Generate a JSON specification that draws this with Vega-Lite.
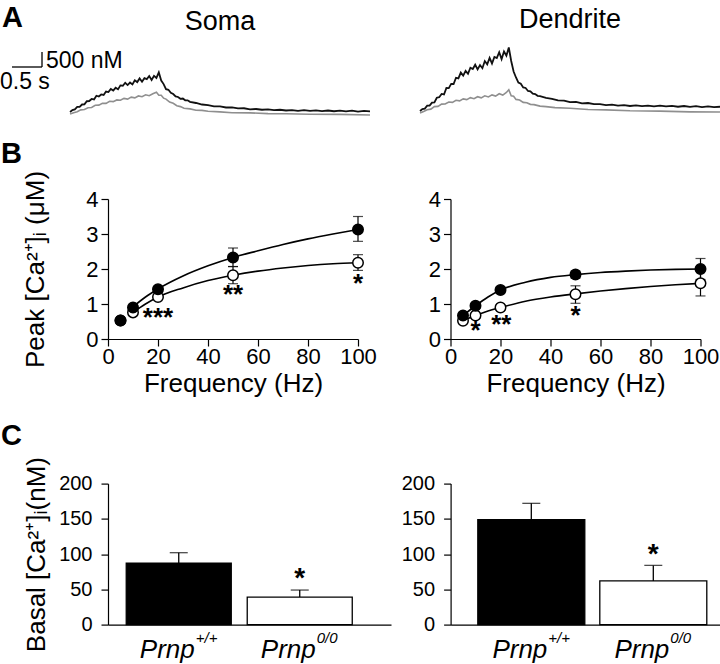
{
 "$schema": "https://vega.github.io/schema/vega-lite/v6.json",
 "padding": {"left": 0, "top": 3, "right": 0, "bottom": 0},
 "background": "white",
 "datasets": {
  "traces": [
   {"p":"soma","g":"ko","t":0,"c":-67},{"p":"soma","g":"ko","t":0.06,"c":-22},{"p":"soma","g":"ko","t":0.12,"c":8},{"p":"soma","g":"ko","t":0.18,"c":70},{"p":"soma","g":"ko","t":0.24,"c":82},{"p":"soma","g":"ko","t":0.3,"c":142},{"p":"soma","g":"ko","t":0.36,"c":150},{"p":"soma","g":"ko","t":0.42,"c":225},{"p":"soma","g":"ko","t":0.48,"c":228},{"p":"soma","g":"ko","t":0.54,"c":288},{"p":"soma","g":"ko","t":0.6,"c":288},{"p":"soma","g":"ko","t":0.66,"c":358},{"p":"soma","g":"ko","t":0.72,"c":345},{"p":"soma","g":"ko","t":0.78,"c":402},{"p":"soma","g":"ko","t":0.84,"c":390},{"p":"soma","g":"ko","t":0.9,"c":455},{"p":"soma","g":"ko","t":0.96,"c":430},{"p":"soma","g":"ko","t":1.02,"c":495},{"p":"soma","g":"ko","t":1.08,"c":472},{"p":"soma","g":"ko","t":1.14,"c":535},{"p":"soma","g":"ko","t":1.2,"c":510},{"p":"soma","g":"ko","t":1.26,"c":575},{"p":"soma","g":"ko","t":1.32,"c":542},{"p":"soma","g":"ko","t":1.38,"c":610},{"p":"soma","g":"ko","t":1.44,"c":660},{"p":"soma","g":"ko","t":1.48,"c":560},{"p":"soma","g":"ko","t":1.52,"c":560},{"p":"soma","g":"ko","t":1.56,"c":460},{"p":"soma","g":"ko","t":1.6,"c":430},{"p":"soma","g":"ko","t":1.66,"c":330},{"p":"soma","g":"ko","t":1.72,"c":290},{"p":"soma","g":"ko","t":1.78,"c":210},{"p":"soma","g":"ko","t":1.84,"c":180},{"p":"soma","g":"ko","t":1.9,"c":125},{"p":"soma","g":"ko","t":2.0,"c":105},{"p":"soma","g":"ko","t":2.1,"c":60},{"p":"soma","g":"ko","t":2.2,"c":55},{"p":"soma","g":"ko","t":2.3,"c":25},{"p":"soma","g":"ko","t":2.5,"c":5},{"p":"soma","g":"ko","t":2.7,"c":-25},{"p":"soma","g":"ko","t":3.0,"c":-30},{"p":"soma","g":"ko","t":3.3,"c":-55},{"p":"soma","g":"ko","t":3.6,"c":-58},{"p":"soma","g":"ko","t":4.0,"c":-75},{"p":"soma","g":"ko","t":4.5,"c":-80},{"p":"soma","g":"ko","t":5.0,"c":-100},
   {"p":"soma","g":"wt","t":0,"c":0},{"p":"soma","g":"wt","t":0.04,"c":62},{"p":"soma","g":"wt","t":0.08,"c":86},{"p":"soma","g":"wt","t":0.12,"c":168},{"p":"soma","g":"wt","t":0.16,"c":172},{"p":"soma","g":"wt","t":0.2,"c":250},{"p":"soma","g":"wt","t":0.24,"c":254},{"p":"soma","g":"wt","t":0.28,"c":359},{"p":"soma","g":"wt","t":0.32,"c":365},{"p":"soma","g":"wt","t":0.36,"c":435},{"p":"soma","g":"wt","t":0.4,"c":418},{"p":"soma","g":"wt","t":0.44,"c":543},{"p":"soma","g":"wt","t":0.48,"c":517},{"p":"soma","g":"wt","t":0.52,"c":585},{"p":"soma","g":"wt","t":0.56,"c":570},{"p":"soma","g":"wt","t":0.6,"c":682},{"p":"soma","g":"wt","t":0.64,"c":664},{"p":"soma","g":"wt","t":0.68,"c":770},{"p":"soma","g":"wt","t":0.72,"c":716},{"p":"soma","g":"wt","t":0.76,"c":807},{"p":"soma","g":"wt","t":0.8,"c":755},{"p":"soma","g":"wt","t":0.84,"c":887},{"p":"soma","g":"wt","t":0.88,"c":876},{"p":"soma","g":"wt","t":0.92,"c":974},{"p":"soma","g":"wt","t":0.96,"c":898},{"p":"soma","g":"wt","t":1.0,"c":981},{"p":"soma","g":"wt","t":1.04,"c":918},{"p":"soma","g":"wt","t":1.08,"c":1058},{"p":"soma","g":"wt","t":1.12,"c":997},{"p":"soma","g":"wt","t":1.16,"c":1120},{"p":"soma","g":"wt","t":1.2,"c":1011},{"p":"soma","g":"wt","t":1.24,"c":1129},{"p":"soma","g":"wt","t":1.28,"c":1095},{"p":"soma","g":"wt","t":1.32,"c":1199},{"p":"soma","g":"wt","t":1.36,"c":1068},{"p":"soma","g":"wt","t":1.4,"c":1207},{"p":"soma","g":"wt","t":1.44,"c":1136},{"p":"soma","g":"wt","t":1.48,"c":1320},{"p":"soma","g":"wt","t":1.52,"c":1050},{"p":"soma","g":"wt","t":1.56,"c":930},{"p":"soma","g":"wt","t":1.6,"c":760},{"p":"soma","g":"wt","t":1.64,"c":740},{"p":"soma","g":"wt","t":1.68,"c":640},{"p":"soma","g":"wt","t":1.72,"c":600},{"p":"soma","g":"wt","t":1.76,"c":520},{"p":"soma","g":"wt","t":1.8,"c":500},{"p":"soma","g":"wt","t":1.84,"c":440},{"p":"soma","g":"wt","t":1.88,"c":450},{"p":"soma","g":"wt","t":1.92,"c":390},{"p":"soma","g":"wt","t":1.96,"c":390},{"p":"soma","g":"wt","t":2.0,"c":340},{"p":"soma","g":"wt","t":2.1,"c":300},{"p":"soma","g":"wt","t":2.2,"c":250},{"p":"soma","g":"wt","t":2.3,"c":230},{"p":"soma","g":"wt","t":2.4,"c":190},{"p":"soma","g":"wt","t":2.5,"c":190},{"p":"soma","g":"wt","t":2.6,"c":150},{"p":"soma","g":"wt","t":2.7,"c":155},{"p":"soma","g":"wt","t":2.8,"c":120},{"p":"soma","g":"wt","t":2.9,"c":125},{"p":"soma","g":"wt","t":3.0,"c":90},{"p":"soma","g":"wt","t":3.1,"c":100},{"p":"soma","g":"wt","t":3.2,"c":75},{"p":"soma","g":"wt","t":3.3,"c":85},{"p":"soma","g":"wt","t":3.4,"c":60},{"p":"soma","g":"wt","t":3.5,"c":75},{"p":"soma","g":"wt","t":3.6,"c":50},{"p":"soma","g":"wt","t":3.7,"c":65},{"p":"soma","g":"wt","t":3.8,"c":40},{"p":"soma","g":"wt","t":3.9,"c":60},{"p":"soma","g":"wt","t":4.0,"c":35},{"p":"soma","g":"wt","t":4.1,"c":55},{"p":"soma","g":"wt","t":4.2,"c":30},{"p":"soma","g":"wt","t":4.3,"c":50},{"p":"soma","g":"wt","t":4.4,"c":25},{"p":"soma","g":"wt","t":4.5,"c":45},{"p":"soma","g":"wt","t":4.6,"c":20},{"p":"soma","g":"wt","t":4.7,"c":45},{"p":"soma","g":"wt","t":4.8,"c":15},{"p":"soma","g":"wt","t":4.9,"c":40},{"p":"soma","g":"wt","t":5.0,"c":20},
   {"p":"dend","g":"ko","t":0,"c":-33},{"p":"dend","g":"ko","t":0.06,"c":15},{"p":"dend","g":"ko","t":0.12,"c":75},{"p":"dend","g":"ko","t":0.18,"c":95},{"p":"dend","g":"ko","t":0.24,"c":180},{"p":"dend","g":"ko","t":0.3,"c":188},{"p":"dend","g":"ko","t":0.36,"c":262},{"p":"dend","g":"ko","t":0.42,"c":265},{"p":"dend","g":"ko","t":0.48,"c":332},{"p":"dend","g":"ko","t":0.54,"c":322},{"p":"dend","g":"ko","t":0.6,"c":390},{"p":"dend","g":"ko","t":0.66,"c":370},{"p":"dend","g":"ko","t":0.72,"c":438},{"p":"dend","g":"ko","t":0.78,"c":412},{"p":"dend","g":"ko","t":0.84,"c":478},{"p":"dend","g":"ko","t":0.9,"c":445},{"p":"dend","g":"ko","t":0.96,"c":510},{"p":"dend","g":"ko","t":1.02,"c":472},{"p":"dend","g":"ko","t":1.08,"c":540},{"p":"dend","g":"ko","t":1.14,"c":502},{"p":"dend","g":"ko","t":1.2,"c":570},{"p":"dend","g":"ko","t":1.26,"c":530},{"p":"dend","g":"ko","t":1.32,"c":608},{"p":"dend","g":"ko","t":1.38,"c":565},{"p":"dend","g":"ko","t":1.44,"c":650},{"p":"dend","g":"ko","t":1.48,"c":740},{"p":"dend","g":"ko","t":1.52,"c":540},{"p":"dend","g":"ko","t":1.56,"c":525},{"p":"dend","g":"ko","t":1.6,"c":420},{"p":"dend","g":"ko","t":1.66,"c":400},{"p":"dend","g":"ko","t":1.72,"c":320},{"p":"dend","g":"ko","t":1.78,"c":310},{"p":"dend","g":"ko","t":1.84,"c":255},{"p":"dend","g":"ko","t":1.9,"c":245},{"p":"dend","g":"ko","t":2.0,"c":195},{"p":"dend","g":"ko","t":2.1,"c":180},{"p":"dend","g":"ko","t":2.25,"c":145},{"p":"dend","g":"ko","t":2.5,"c":125},{"p":"dend","g":"ko","t":2.8,"c":85},{"p":"dend","g":"ko","t":3.1,"c":70},{"p":"dend","g":"ko","t":3.5,"c":40},{"p":"dend","g":"ko","t":4.0,"c":30},{"p":"dend","g":"ko","t":4.5,"c":5},{"p":"dend","g":"ko","t":5.0,"c":0},
   {"p":"dend","g":"wt","t":0,"c":33},{"p":"dend","g":"wt","t":0.04,"c":97},{"p":"dend","g":"wt","t":0.08,"c":114},{"p":"dend","g":"wt","t":0.12,"c":211},{"p":"dend","g":"wt","t":0.16,"c":213},{"p":"dend","g":"wt","t":0.2,"c":313},{"p":"dend","g":"wt","t":0.24,"c":322},{"p":"dend","g":"wt","t":0.28,"c":476},{"p":"dend","g":"wt","t":0.32,"c":493},{"p":"dend","g":"wt","t":0.36,"c":601},{"p":"dend","g":"wt","t":0.4,"c":584},{"p":"dend","g":"wt","t":0.44,"c":804},{"p":"dend","g":"wt","t":0.48,"c":795},{"p":"dend","g":"wt","t":0.52,"c":936},{"p":"dend","g":"wt","t":0.56,"c":933},{"p":"dend","g":"wt","t":0.6,"c":1142},{"p":"dend","g":"wt","t":0.64,"c":1120},{"p":"dend","g":"wt","t":0.68,"c":1313},{"p":"dend","g":"wt","t":0.72,"c":1215},{"p":"dend","g":"wt","t":0.76,"c":1369},{"p":"dend","g":"wt","t":0.8,"c":1273},{"p":"dend","g":"wt","t":0.84,"c":1477},{"p":"dend","g":"wt","t":0.88,"c":1433},{"p":"dend","g":"wt","t":0.92,"c":1575},{"p":"dend","g":"wt","t":0.96,"c":1422},{"p":"dend","g":"wt","t":1.0,"c":1565},{"p":"dend","g":"wt","t":1.04,"c":1460},{"p":"dend","g":"wt","t":1.08,"c":1698},{"p":"dend","g":"wt","t":1.12,"c":1591},{"p":"dend","g":"wt","t":1.16,"c":1805},{"p":"dend","g":"wt","t":1.2,"c":1618},{"p":"dend","g":"wt","t":1.24,"c":1837},{"p":"dend","g":"wt","t":1.28,"c":1798},{"p":"dend","g":"wt","t":1.32,"c":1992},{"p":"dend","g":"wt","t":1.36,"c":1762},{"p":"dend","g":"wt","t":1.4,"c":2014},{"p":"dend","g":"wt","t":1.44,"c":1875},{"p":"dend","g":"wt","t":1.48,"c":2150},{"p":"dend","g":"wt","t":1.52,"c":1700},{"p":"dend","g":"wt","t":1.56,"c":1350},{"p":"dend","g":"wt","t":1.6,"c":1150},{"p":"dend","g":"wt","t":1.64,"c":980},{"p":"dend","g":"wt","t":1.68,"c":940},{"p":"dend","g":"wt","t":1.72,"c":820},{"p":"dend","g":"wt","t":1.76,"c":800},{"p":"dend","g":"wt","t":1.8,"c":700},{"p":"dend","g":"wt","t":1.84,"c":690},{"p":"dend","g":"wt","t":1.88,"c":610},{"p":"dend","g":"wt","t":1.92,"c":600},{"p":"dend","g":"wt","t":1.96,"c":540},{"p":"dend","g":"wt","t":2.0,"c":530},{"p":"dend","g":"wt","t":2.1,"c":470},{"p":"dend","g":"wt","t":2.2,"c":440},{"p":"dend","g":"wt","t":2.3,"c":390},{"p":"dend","g":"wt","t":2.4,"c":380},{"p":"dend","g":"wt","t":2.5,"c":330},{"p":"dend","g":"wt","t":2.6,"c":340},{"p":"dend","g":"wt","t":2.7,"c":290},{"p":"dend","g":"wt","t":2.8,"c":300},{"p":"dend","g":"wt","t":2.9,"c":260},{"p":"dend","g":"wt","t":3.0,"c":265},{"p":"dend","g":"wt","t":3.1,"c":230},{"p":"dend","g":"wt","t":3.2,"c":245},{"p":"dend","g":"wt","t":3.3,"c":215},{"p":"dend","g":"wt","t":3.4,"c":230},{"p":"dend","g":"wt","t":3.5,"c":200},{"p":"dend","g":"wt","t":3.6,"c":220},{"p":"dend","g":"wt","t":3.7,"c":195},{"p":"dend","g":"wt","t":3.8,"c":215},{"p":"dend","g":"wt","t":3.9,"c":190},{"p":"dend","g":"wt","t":4.0,"c":210},{"p":"dend","g":"wt","t":4.1,"c":185},{"p":"dend","g":"wt","t":4.2,"c":205},{"p":"dend","g":"wt","t":4.3,"c":175},{"p":"dend","g":"wt","t":4.4,"c":200},{"p":"dend","g":"wt","t":4.5,"c":170},{"p":"dend","g":"wt","t":4.6,"c":195},{"p":"dend","g":"wt","t":4.7,"c":165},{"p":"dend","g":"wt","t":4.8,"c":190},{"p":"dend","g":"wt","t":4.9,"c":160},{"p":"dend","g":"wt","t":5.0,"c":175}
  ],
  "fit": [
   {"p":"soma","g":"wt","f":10,"v":0.92},{"p":"soma","g":"wt","f":15,"v":1.2},{"p":"soma","g":"wt","f":20,"v":1.43},{"p":"soma","g":"wt","f":30,"v":1.8},{"p":"soma","g":"wt","f":40,"v":2.09},{"p":"soma","g":"wt","f":50,"v":2.33},{"p":"soma","g":"wt","f":60,"v":2.52},{"p":"soma","g":"wt","f":70,"v":2.7},{"p":"soma","g":"wt","f":80,"v":2.86},{"p":"soma","g":"wt","f":90,"v":3.0},{"p":"soma","g":"wt","f":100,"v":3.13},
   {"p":"soma","g":"ko","f":10,"v":0.76},{"p":"soma","g":"ko","f":15,"v":1.0},{"p":"soma","g":"ko","f":20,"v":1.2},{"p":"soma","g":"ko","f":30,"v":1.46},{"p":"soma","g":"ko","f":40,"v":1.67},{"p":"soma","g":"ko","f":50,"v":1.82},{"p":"soma","g":"ko","f":60,"v":1.94},{"p":"soma","g":"ko","f":70,"v":2.03},{"p":"soma","g":"ko","f":80,"v":2.1},{"p":"soma","g":"ko","f":90,"v":2.15},{"p":"soma","g":"ko","f":100,"v":2.18},
   {"p":"dend","g":"wt","f":5,"v":0.67},{"p":"dend","g":"wt","f":10,"v":0.95},{"p":"dend","g":"wt","f":15,"v":1.2},{"p":"dend","g":"wt","f":20,"v":1.4},{"p":"dend","g":"wt","f":30,"v":1.62},{"p":"dend","g":"wt","f":40,"v":1.76},{"p":"dend","g":"wt","f":50,"v":1.84},{"p":"dend","g":"wt","f":60,"v":1.9},{"p":"dend","g":"wt","f":70,"v":1.94},{"p":"dend","g":"wt","f":80,"v":1.97},{"p":"dend","g":"wt","f":90,"v":1.99},{"p":"dend","g":"wt","f":100,"v":2.0},
   {"p":"dend","g":"ko","f":5,"v":0.52},{"p":"dend","g":"ko","f":10,"v":0.67},{"p":"dend","g":"ko","f":15,"v":0.8},{"p":"dend","g":"ko","f":20,"v":0.9},{"p":"dend","g":"ko","f":30,"v":1.08},{"p":"dend","g":"ko","f":40,"v":1.2},{"p":"dend","g":"ko","f":50,"v":1.29},{"p":"dend","g":"ko","f":60,"v":1.37},{"p":"dend","g":"ko","f":70,"v":1.44},{"p":"dend","g":"ko","f":80,"v":1.5},{"p":"dend","g":"ko","f":90,"v":1.55},{"p":"dend","g":"ko","f":100,"v":1.59}
  ],
  "pts": [
   {"p":"soma","g":"wt","f":5,"v":0.53,"lo":0.48,"hi":0.58},{"p":"soma","g":"wt","f":10,"v":0.9,"lo":0.84,"hi":0.96},{"p":"soma","g":"wt","f":20,"v":1.42,"lo":1.34,"hi":1.5},{"p":"soma","g":"wt","f":50,"v":2.33,"lo":2.07,"hi":2.6},{"p":"soma","g":"wt","f":100,"v":3.13,"lo":2.79,"hi":3.5},
   {"p":"soma","g":"ko","f":5,"v":0.53,"lo":0.5,"hi":0.56},{"p":"soma","g":"ko","f":10,"v":0.76,"lo":0.71,"hi":0.81},{"p":"soma","g":"ko","f":20,"v":1.2,"lo":1.13,"hi":1.27},{"p":"soma","g":"ko","f":50,"v":1.82,"lo":1.58,"hi":2.07},{"p":"soma","g":"ko","f":100,"v":2.18,"lo":1.96,"hi":2.41},
   {"p":"dend","g":"wt","f":5,"v":0.67,"lo":0.6,"hi":0.74},{"p":"dend","g":"wt","f":10,"v":0.95,"lo":0.88,"hi":1.02},{"p":"dend","g":"wt","f":20,"v":1.4,"lo":1.32,"hi":1.48},{"p":"dend","g":"wt","f":50,"v":1.84,"lo":1.74,"hi":1.94},{"p":"dend","g":"wt","f":100,"v":2.0,"lo":1.7,"hi":2.3},
   {"p":"dend","g":"ko","f":5,"v":0.52,"lo":0.47,"hi":0.57},{"p":"dend","g":"ko","f":10,"v":0.67,"lo":0.6,"hi":0.74},{"p":"dend","g":"ko","f":20,"v":0.9,"lo":0.83,"hi":0.97},{"p":"dend","g":"ko","f":50,"v":1.28,"lo":1.02,"hi":1.52},{"p":"dend","g":"ko","f":100,"v":1.59,"lo":1.23,"hi":1.95}
  ],
  "stars": [
   {"p":"soma","f":20,"v":0.69,"s":"***"},{"p":"soma","f":50,"v":1.34,"s":"**"},{"p":"soma","f":100,"v":1.67,"s":"*"},
   {"p":"dend","f":10,"v":0.31,"s":"*"},{"p":"dend","f":20.3,"v":0.5,"s":"**"},{"p":"dend","f":50,"v":0.75,"s":"*"}
  ],
  "basal": [
   {"p":"soma","g":"wt","v":87,"hi":102,"sup":"+/+"},{"p":"soma","g":"ko","v":39,"hi":49,"sup":"0/0"},
   {"p":"dend","g":"wt","v":149,"hi":172,"sup":"+/+"},{"p":"dend","g":"ko","v":62,"hi":84,"sup":"0/0"}
  ],
  "bstars": [
   {"p":"soma","g":"ko","v":71,"s":"*"},{"p":"dend","g":"ko","v":105,"s":"*"}
  ]
 },
 "spacing": 21,
 "vconcat": [
  {
   "title": {"text": "A", "anchor": "start", "fontSize": 29, "fontWeight": "bold", "offset": -27, "dx": 2},
   "spacing": 42,
   "hconcat": [
    {
     "width": 262, "height": 72,
     "title": {"text": "Soma", "fontSize": 27, "fontWeight": "normal", "frame": "group", "anchor": "middle", "offset": 10, "dx": -19},
     "layer": [
      {"data": {"name": "traces"}, "transform": [{"filter": "datum.p === 'soma' && datum.g === 'ko'"}],
       "mark": {"type": "line", "color": "#8f8f8f", "strokeWidth": 1.6},
       "encoding": {"x": {"field": "t", "type": "quantitative", "scale": {"domain": [0.633, 5], "nice": false}, "axis": null},
                    "y": {"field": "c", "type": "quantitative", "scale": {"domain": [-200, 2200], "nice": false}, "axis": null}}},
      {"data": {"name": "traces"}, "transform": [{"filter": "datum.p === 'soma' && datum.g === 'wt'"}],
       "mark": {"type": "line", "color": "#111111", "strokeWidth": 1.8},
       "encoding": {"x": {"field": "t", "type": "quantitative", "scale": {"domain": [0.633, 5], "nice": false}, "axis": null},
                    "y": {"field": "c", "type": "quantitative", "scale": {"domain": [-200, 2200], "nice": false}, "axis": null}}},
      {"data": {"values": [{"t": -0.967, "t2": -0.467, "c": 1500, "c2": 1500}, {"t": -0.467, "t2": -0.467, "c": 1500, "c2": 2000}]},
       "mark": {"type": "rule", "color": "#000", "strokeWidth": 1.3},
       "encoding": {"x": {"field": "t", "type": "quantitative", "scale": {"domain": [0.633, 5], "nice": false}, "axis": null}, "x2": {"field": "t2"},
                    "y": {"field": "c", "type": "quantitative", "scale": {"domain": [-200, 2200], "nice": false}, "axis": null}, "y2": {"field": "c2"}}},
      {"data": {"values": [{"t": -0.4, "c": 1707, "label": "500 nM"}]},
       "mark": {"type": "text", "align": "left", "baseline": "middle", "fontSize": 23, "color": "#000"},
       "encoding": {"x": {"field": "t", "type": "quantitative", "scale": {"domain": [0.633, 5], "nice": false}, "axis": null},
                    "y": {"field": "c", "type": "quantitative", "scale": {"domain": [-200, 2200], "nice": false}, "axis": null}, "text": {"field": "label"}}},
      {"data": {"values": [{"t": -1.167, "c": 1007, "label": "0.5 s"}]},
       "mark": {"type": "text", "align": "left", "baseline": "middle", "fontSize": 23, "color": "#000"},
       "encoding": {"x": {"field": "t", "type": "quantitative", "scale": {"domain": [0.633, 5], "nice": false}, "axis": null},
                    "y": {"field": "c", "type": "quantitative", "scale": {"domain": [-200, 2200], "nice": false}, "axis": null}, "text": {"field": "label"}}}
     ]
    },
    {
     "width": 300, "height": 72,
     "title": {"text": "Dendrite", "fontSize": 27, "fontWeight": "normal", "frame": "group", "anchor": "middle", "offset": 10},
     "layer": [
      {"data": {"name": "traces"}, "transform": [{"filter": "datum.p === 'dend' && datum.g === 'ko'"}],
       "mark": {"type": "line", "color": "#8f8f8f", "strokeWidth": 1.6},
       "encoding": {"x": {"field": "t", "type": "quantitative", "scale": {"domain": [0, 5], "nice": false}, "axis": null},
                    "y": {"field": "c", "type": "quantitative", "scale": {"domain": [-200, 2200], "nice": false}, "axis": null}}},
      {"data": {"name": "traces"}, "transform": [{"filter": "datum.p === 'dend' && datum.g === 'wt'"}],
       "mark": {"type": "line", "color": "#111111", "strokeWidth": 1.8},
       "encoding": {"x": {"field": "t", "type": "quantitative", "scale": {"domain": [0, 5], "nice": false}, "axis": null},
                    "y": {"field": "c", "type": "quantitative", "scale": {"domain": [-200, 2200], "nice": false}, "axis": null}}}
     ]
    }
   ]
  },
  {
   "spacing": 25.6,
   "vconcat": [
    {
     "title": {"text": "B", "anchor": "start", "fontSize": 29, "fontWeight": "bold", "offset": 1, "dx": -22},
     "spacing": 50.5,
     "hconcat": [
      {
       "width": 250, "height": 140,
       "layer": [
        {"data": {"name": "fit"}, "transform": [{"filter": "datum.p === 'soma'"}],
         "mark": {"type": "line", "color": "#000", "strokeWidth": 1.6, "interpolate": "monotone"},
         "encoding": {"x": {"field": "f", "type": "quantitative", "scale": {"domain": [0, 100], "nice": false}, "axis": {"values": [0, 20, 40, 60, 80, 100], "title": "Frequency (Hz)", "titlePadding": 3}},
                      "y": {"field": "v", "type": "quantitative", "scale": {"domain": [0, 4], "nice": false}, "axis": {"values": [0, 1, 2, 3, 4], "title": "Peak [Ca²⁺]ᵢ (μM)", "titlePadding": 36.8}},
                      "detail": {"field": "g"}}},
        {"data": {"name": "pts"}, "transform": [{"filter": "datum.p === 'soma'"}],
         "mark": {"type": "rule", "color": "#000", "strokeWidth": 1.2},
         "encoding": {"x": {"field": "f", "type": "quantitative", "scale": {"domain": [0, 100], "nice": false}, "axis": {"values": [0, 20, 40, 60, 80, 100], "title": "Frequency (Hz)", "titlePadding": 3}},
                      "y": {"field": "lo", "type": "quantitative", "scale": {"domain": [0, 4], "nice": false}, "axis": {"values": [0, 1, 2, 3, 4], "title": "Peak [Ca²⁺]ᵢ (μM)", "titlePadding": 36.8}}, "y2": {"field": "hi"}}},
        {"data": {"name": "pts"}, "transform": [{"filter": "datum.p === 'soma'"}],
         "mark": {"type": "tick", "orient": "horizontal", "color": "#000", "size": 10, "thickness": 1.2},
         "encoding": {"x": {"field": "f", "type": "quantitative", "scale": {"domain": [0, 100], "nice": false}, "axis": {"values": [0, 20, 40, 60, 80, 100], "title": "Frequency (Hz)", "titlePadding": 3}},
                      "y": {"field": "hi", "type": "quantitative", "scale": {"domain": [0, 4], "nice": false}, "axis": {"values": [0, 1, 2, 3, 4], "title": "Peak [Ca²⁺]ᵢ (μM)", "titlePadding": 36.8}}}},
        {"data": {"name": "pts"}, "transform": [{"filter": "datum.p === 'soma'"}],
         "mark": {"type": "tick", "orient": "horizontal", "color": "#000", "size": 10, "thickness": 1.2},
         "encoding": {"x": {"field": "f", "type": "quantitative", "scale": {"domain": [0, 100], "nice": false}, "axis": {"values": [0, 20, 40, 60, 80, 100], "title": "Frequency (Hz)", "titlePadding": 3}},
                      "y": {"field": "lo", "type": "quantitative", "scale": {"domain": [0, 4], "nice": false}, "axis": {"values": [0, 1, 2, 3, 4], "title": "Peak [Ca²⁺]ᵢ (μM)", "titlePadding": 36.8}}}},
        {"data": {"name": "pts"}, "transform": [{"filter": "datum.p === 'soma' && datum.g === 'ko'"}],
         "mark": {"type": "point", "shape": "circle", "filled": true, "fill": "#fff", "stroke": "#000", "strokeWidth": 1.5, "size": 110, "opacity": 1},
         "encoding": {"x": {"field": "f", "type": "quantitative", "scale": {"domain": [0, 100], "nice": false}, "axis": {"values": [0, 20, 40, 60, 80, 100], "title": "Frequency (Hz)", "titlePadding": 3}},
                      "y": {"field": "v", "type": "quantitative", "scale": {"domain": [0, 4], "nice": false}, "axis": {"values": [0, 1, 2, 3, 4], "title": "Peak [Ca²⁺]ᵢ (μM)", "titlePadding": 36.8}}}},
        {"data": {"name": "pts"}, "transform": [{"filter": "datum.p === 'soma' && datum.g === 'wt'"}],
         "mark": {"type": "point", "shape": "circle", "filled": true, "fill": "#000", "stroke": "#000", "strokeWidth": 1.5, "size": 110, "opacity": 1},
         "encoding": {"x": {"field": "f", "type": "quantitative", "scale": {"domain": [0, 100], "nice": false}, "axis": {"values": [0, 20, 40, 60, 80, 100], "title": "Frequency (Hz)", "titlePadding": 3}},
                      "y": {"field": "v", "type": "quantitative", "scale": {"domain": [0, 4], "nice": false}, "axis": {"values": [0, 1, 2, 3, 4], "title": "Peak [Ca²⁺]ᵢ (μM)", "titlePadding": 36.8}}}},
        {"data": {"name": "stars"}, "transform": [{"filter": "datum.p === 'soma'"}],
         "mark": {"type": "text", "fontSize": 26, "fontWeight": "bold", "baseline": "middle", "dy": 3, "color": "#000"},
         "encoding": {"x": {"field": "f", "type": "quantitative", "scale": {"domain": [0, 100], "nice": false}, "axis": {"values": [0, 20, 40, 60, 80, 100], "title": "Frequency (Hz)", "titlePadding": 3}},
                      "y": {"field": "v", "type": "quantitative", "scale": {"domain": [0, 4], "nice": false}, "axis": {"values": [0, 1, 2, 3, 4], "title": "Peak [Ca²⁺]ᵢ (μM)", "titlePadding": 36.8}}, "text": {"field": "s"}}}
       ]
      },
      {
       "width": 250, "height": 140,
       "layer": [
        {"data": {"name": "fit"}, "transform": [{"filter": "datum.p === 'dend'"}],
         "mark": {"type": "line", "color": "#000", "strokeWidth": 1.6, "interpolate": "monotone"},
         "encoding": {"x": {"field": "f", "type": "quantitative", "scale": {"domain": [0, 100], "nice": false}, "axis": {"values": [0, 20, 40, 60, 80, 100], "title": "Frequency (Hz)", "titlePadding": 3}},
                      "y": {"field": "v", "type": "quantitative", "scale": {"domain": [0, 4], "nice": false}, "axis": {"values": [0, 1, 2, 3, 4], "title": null}},
                      "detail": {"field": "g"}}},
        {"data": {"name": "pts"}, "transform": [{"filter": "datum.p === 'dend'"}],
         "mark": {"type": "rule", "color": "#000", "strokeWidth": 1.2},
         "encoding": {"x": {"field": "f", "type": "quantitative", "scale": {"domain": [0, 100], "nice": false}, "axis": {"values": [0, 20, 40, 60, 80, 100], "title": "Frequency (Hz)", "titlePadding": 3}},
                      "y": {"field": "lo", "type": "quantitative", "scale": {"domain": [0, 4], "nice": false}, "axis": {"values": [0, 1, 2, 3, 4], "title": null}}, "y2": {"field": "hi"}}},
        {"data": {"name": "pts"}, "transform": [{"filter": "datum.p === 'dend'"}],
         "mark": {"type": "tick", "orient": "horizontal", "color": "#000", "size": 10, "thickness": 1.2},
         "encoding": {"x": {"field": "f", "type": "quantitative", "scale": {"domain": [0, 100], "nice": false}, "axis": {"values": [0, 20, 40, 60, 80, 100], "title": "Frequency (Hz)", "titlePadding": 3}},
                      "y": {"field": "hi", "type": "quantitative", "scale": {"domain": [0, 4], "nice": false}, "axis": {"values": [0, 1, 2, 3, 4], "title": null}}}},
        {"data": {"name": "pts"}, "transform": [{"filter": "datum.p === 'dend'"}],
         "mark": {"type": "tick", "orient": "horizontal", "color": "#000", "size": 10, "thickness": 1.2},
         "encoding": {"x": {"field": "f", "type": "quantitative", "scale": {"domain": [0, 100], "nice": false}, "axis": {"values": [0, 20, 40, 60, 80, 100], "title": "Frequency (Hz)", "titlePadding": 3}},
                      "y": {"field": "lo", "type": "quantitative", "scale": {"domain": [0, 4], "nice": false}, "axis": {"values": [0, 1, 2, 3, 4], "title": null}}}},
        {"data": {"name": "pts"}, "transform": [{"filter": "datum.p === 'dend' && datum.g === 'ko'"}],
         "mark": {"type": "point", "shape": "circle", "filled": true, "fill": "#fff", "stroke": "#000", "strokeWidth": 1.5, "size": 110, "opacity": 1},
         "encoding": {"x": {"field": "f", "type": "quantitative", "scale": {"domain": [0, 100], "nice": false}, "axis": {"values": [0, 20, 40, 60, 80, 100], "title": "Frequency (Hz)", "titlePadding": 3}},
                      "y": {"field": "v", "type": "quantitative", "scale": {"domain": [0, 4], "nice": false}, "axis": {"values": [0, 1, 2, 3, 4], "title": null}}}},
        {"data": {"name": "pts"}, "transform": [{"filter": "datum.p === 'dend' && datum.g === 'wt'"}],
         "mark": {"type": "point", "shape": "circle", "filled": true, "fill": "#000", "stroke": "#000", "strokeWidth": 1.5, "size": 110, "opacity": 1},
         "encoding": {"x": {"field": "f", "type": "quantitative", "scale": {"domain": [0, 100], "nice": false}, "axis": {"values": [0, 20, 40, 60, 80, 100], "title": "Frequency (Hz)", "titlePadding": 3}},
                      "y": {"field": "v", "type": "quantitative", "scale": {"domain": [0, 4], "nice": false}, "axis": {"values": [0, 1, 2, 3, 4], "title": null}}}},
        {"data": {"name": "stars"}, "transform": [{"filter": "datum.p === 'dend'"}],
         "mark": {"type": "text", "fontSize": 26, "fontWeight": "bold", "baseline": "middle", "dy": 3, "color": "#000"},
         "encoding": {"x": {"field": "f", "type": "quantitative", "scale": {"domain": [0, 100], "nice": false}, "axis": {"values": [0, 20, 40, 60, 80, 100], "title": "Frequency (Hz)", "titlePadding": 3}},
                      "y": {"field": "v", "type": "quantitative", "scale": {"domain": [0, 4], "nice": false}, "axis": {"values": [0, 1, 2, 3, 4], "title": null}}, "text": {"field": "s"}}}
       ]
      }
     ]
    },
    {
     "title": {"text": "C", "anchor": "start", "fontSize": 29, "fontWeight": "bold", "offset": 5.5, "dx": -22},
     "spacing": 9.6,
     "hconcat": [
      {
       "width": 283, "height": 141,
       "layer": [
        {"data": {"name": "basal"}, "transform": [{"filter": "datum.p === 'soma'"}],
         "mark": {"type": "bar", "stroke": "#000", "strokeWidth": 1.3},
         "encoding": {"x": {"field": "g", "type": "nominal", "sort": ["wt", "ko"], "scale": {"paddingInner": 0.132, "paddingOuter": 0.2355, "align": 0.32}, "axis": {"labels": false, "ticks": false, "title": null}},
                      "y": {"field": "v", "type": "quantitative", "scale": {"domain": [0, 200], "nice": false}, "axis": {"values": [0, 50, 100, 150, 200], "title": "Basal [Ca²⁺]ᵢ(nM)", "labelFontSize": 20, "labelPadding": 9, "titlePadding": 9.6}},
                      "fill": {"field": "g", "type": "nominal", "scale": {"domain": ["wt", "ko"], "range": ["#000000", "#ffffff"]}, "legend": null}}},
        {"data": {"name": "basal"}, "transform": [{"filter": "datum.p === 'soma'"}],
         "mark": {"type": "rule", "color": "#000", "strokeWidth": 1.3},
         "encoding": {"x": {"field": "g", "type": "nominal", "sort": ["wt", "ko"], "scale": {"paddingInner": 0.132, "paddingOuter": 0.2355, "align": 0.32}, "axis": {"labels": false, "ticks": false, "title": null}},
                      "y": {"field": "v", "type": "quantitative", "scale": {"domain": [0, 200], "nice": false}, "axis": {"values": [0, 50, 100, 150, 200], "title": "Basal [Ca²⁺]ᵢ(nM)", "labelFontSize": 20, "labelPadding": 9, "titlePadding": 9.6}}, "y2": {"field": "hi"}}},
        {"data": {"name": "basal"}, "transform": [{"filter": "datum.p === 'soma'"}],
         "mark": {"type": "tick", "orient": "horizontal", "color": "#000", "size": 18, "thickness": 1.3},
         "encoding": {"x": {"field": "g", "type": "nominal", "sort": ["wt", "ko"], "scale": {"paddingInner": 0.132, "paddingOuter": 0.2355, "align": 0.32}, "axis": {"labels": false, "ticks": false, "title": null}},
                      "y": {"field": "hi", "type": "quantitative", "scale": {"domain": [0, 200], "nice": false}, "axis": {"values": [0, 50, 100, 150, 200], "title": "Basal [Ca²⁺]ᵢ(nM)", "labelFontSize": 20, "labelPadding": 9, "titlePadding": 9.6}}}},
        {"data": {"name": "bstars"}, "transform": [{"filter": "datum.p === 'soma'"}],
         "mark": {"type": "text", "fontSize": 28, "fontWeight": "bold", "baseline": "middle", "dy": 4, "color": "#000"},
         "encoding": {"x": {"field": "g", "type": "nominal", "sort": ["wt", "ko"], "scale": {"paddingInner": 0.132, "paddingOuter": 0.2355, "align": 0.32}, "axis": {"labels": false, "ticks": false, "title": null}},
                      "y": {"field": "v", "type": "quantitative", "scale": {"domain": [0, 200], "nice": false}, "axis": {"values": [0, 50, 100, 150, 200], "title": "Basal [Ca²⁺]ᵢ(nM)", "labelFontSize": 20, "labelPadding": 9, "titlePadding": 9.6}}, "text": {"field": "s"}}},
        {"data": {"name": "basal"}, "transform": [{"filter": "datum.p === 'soma'"}],
         "mark": {"type": "text", "fontSize": 26, "fontStyle": "italic", "align": "right", "baseline": "alphabetic", "dx": 16, "dy": 33, "color": "#000"},
         "encoding": {"x": {"field": "g", "type": "nominal", "sort": ["wt", "ko"], "scale": {"paddingInner": 0.132, "paddingOuter": 0.2355, "align": 0.32}, "axis": {"labels": false, "ticks": false, "title": null}},
                      "y": {"datum": 0, "type": "quantitative", "scale": {"domain": [0, 200], "nice": false}, "axis": {"values": [0, 50, 100, 150, 200], "title": "Basal [Ca²⁺]ᵢ(nM)", "labelFontSize": 20, "labelPadding": 9, "titlePadding": 9.6}}, "text": {"value": "Prnp"}}},
        {"data": {"name": "basal"}, "transform": [{"filter": "datum.p === 'soma'"}],
         "mark": {"type": "text", "fontSize": 15, "fontStyle": "italic", "align": "left", "baseline": "alphabetic", "dx": 17, "dy": 18, "color": "#000"},
         "encoding": {"x": {"field": "g", "type": "nominal", "sort": ["wt", "ko"], "scale": {"paddingInner": 0.132, "paddingOuter": 0.2355, "align": 0.32}, "axis": {"labels": false, "ticks": false, "title": null}},
                      "y": {"datum": 0, "type": "quantitative", "scale": {"domain": [0, 200], "nice": false}, "axis": {"values": [0, 50, 100, 150, 200], "title": "Basal [Ca²⁺]ᵢ(nM)", "labelFontSize": 20, "labelPadding": 9, "titlePadding": 9.6}}, "text": {"field": "sup"}}}
       ]
      },
      {
       "width": 269, "height": 141,
       "layer": [
        {"data": {"name": "basal"}, "transform": [{"filter": "datum.p === 'dend'"}],
         "mark": {"type": "bar", "stroke": "#000", "strokeWidth": 1.3},
         "encoding": {"x": {"field": "g", "type": "nominal", "sort": ["wt", "ko"], "scale": {"paddingInner": 0.123, "paddingOuter": 0.164, "align": 0.68}, "axis": {"labels": false, "ticks": false, "title": null}},
                      "y": {"field": "v", "type": "quantitative", "scale": {"domain": [0, 200], "nice": false}, "axis": {"values": [0, 50, 100, 150, 200], "title": null, "labelFontSize": 20, "labelPadding": 9}},
                      "fill": {"field": "g", "type": "nominal", "scale": {"domain": ["wt", "ko"], "range": ["#000000", "#ffffff"]}, "legend": null}}},
        {"data": {"name": "basal"}, "transform": [{"filter": "datum.p === 'dend'"}],
         "mark": {"type": "rule", "color": "#000", "strokeWidth": 1.3},
         "encoding": {"x": {"field": "g", "type": "nominal", "sort": ["wt", "ko"], "scale": {"paddingInner": 0.123, "paddingOuter": 0.164, "align": 0.68}, "axis": {"labels": false, "ticks": false, "title": null}},
                      "y": {"field": "v", "type": "quantitative", "scale": {"domain": [0, 200], "nice": false}, "axis": {"values": [0, 50, 100, 150, 200], "title": null, "labelFontSize": 20, "labelPadding": 9}}, "y2": {"field": "hi"}}},
        {"data": {"name": "basal"}, "transform": [{"filter": "datum.p === 'dend'"}],
         "mark": {"type": "tick", "orient": "horizontal", "color": "#000", "size": 18, "thickness": 1.3},
         "encoding": {"x": {"field": "g", "type": "nominal", "sort": ["wt", "ko"], "scale": {"paddingInner": 0.123, "paddingOuter": 0.164, "align": 0.68}, "axis": {"labels": false, "ticks": false, "title": null}},
                      "y": {"field": "hi", "type": "quantitative", "scale": {"domain": [0, 200], "nice": false}, "axis": {"values": [0, 50, 100, 150, 200], "title": null, "labelFontSize": 20, "labelPadding": 9}}}},
        {"data": {"name": "bstars"}, "transform": [{"filter": "datum.p === 'dend'"}],
         "mark": {"type": "text", "fontSize": 28, "fontWeight": "bold", "baseline": "middle", "dy": 4, "color": "#000"},
         "encoding": {"x": {"field": "g", "type": "nominal", "sort": ["wt", "ko"], "scale": {"paddingInner": 0.123, "paddingOuter": 0.164, "align": 0.68}, "axis": {"labels": false, "ticks": false, "title": null}},
                      "y": {"field": "v", "type": "quantitative", "scale": {"domain": [0, 200], "nice": false}, "axis": {"values": [0, 50, 100, 150, 200], "title": null, "labelFontSize": 20, "labelPadding": 9}}, "text": {"field": "s"}}},
        {"data": {"name": "basal"}, "transform": [{"filter": "datum.p === 'dend'"}],
         "mark": {"type": "text", "fontSize": 26, "fontStyle": "italic", "align": "right", "baseline": "alphabetic", "dx": 16, "dy": 33, "color": "#000"},
         "encoding": {"x": {"field": "g", "type": "nominal", "sort": ["wt", "ko"], "scale": {"paddingInner": 0.123, "paddingOuter": 0.164, "align": 0.68}, "axis": {"labels": false, "ticks": false, "title": null}},
                      "y": {"datum": 0, "type": "quantitative", "scale": {"domain": [0, 200], "nice": false}, "axis": {"values": [0, 50, 100, 150, 200], "title": null, "labelFontSize": 20, "labelPadding": 9}}, "text": {"value": "Prnp"}}},
        {"data": {"name": "basal"}, "transform": [{"filter": "datum.p === 'dend'"}],
         "mark": {"type": "text", "fontSize": 15, "fontStyle": "italic", "align": "left", "baseline": "alphabetic", "dx": 17, "dy": 18, "color": "#000"},
         "encoding": {"x": {"field": "g", "type": "nominal", "sort": ["wt", "ko"], "scale": {"paddingInner": 0.123, "paddingOuter": 0.164, "align": 0.68}, "axis": {"labels": false, "ticks": false, "title": null}},
                      "y": {"datum": 0, "type": "quantitative", "scale": {"domain": [0, 200], "nice": false}, "axis": {"values": [0, 50, 100, 150, 200], "title": null, "labelFontSize": 20, "labelPadding": 9}}, "text": {"field": "sup"}}}
       ]
      }
     ]
    }
   ]
  }
 ],
 "config": {
  "font": "Liberation Sans",
  "view": {"stroke": null},
  "title": {"font": "Liberation Sans", "color": "#000"},
  "text": {"font": "Liberation Sans"},
  "axis": {"domainColor": "#000", "domainWidth": 1.2, "tickColor": "#000", "tickWidth": 1.2, "tickSize": 7,
           "labelColor": "#000", "labelFont": "Liberation Sans", "labelFontSize": 22, "labelPadding": 3,
           "labelFlush": false, "labelOverlap": false,
           "titleColor": "#000", "titleFont": "Liberation Sans", "titleFontSize": 26, "titleFontWeight": "normal", "grid": false},
  "axisX": {"labelPadding": 0}
 }
}
